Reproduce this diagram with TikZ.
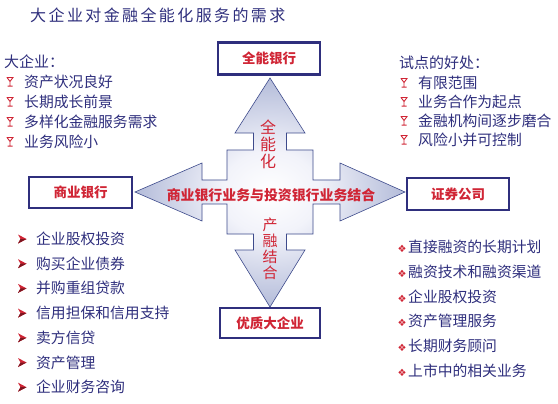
\documentclass[tikz,border=0pt]{standalone}
\usepackage{fontspec}
\setmainfont{Noto Sans CJK SC}
\newfontfamily\dejavu{DejaVu Sans}
\usetikzlibrary{positioning, calc}
\definecolor{navy}{HTML}{2F2F7D}
\definecolor{tred}{HTML}{D02535}
\definecolor{steel}{HTML}{5265A6}
\definecolor{hublight}{HTML}{F2F3FA}
\definecolor{hubedge}{HTML}{3E4B8C}
\pgfdeclareradialshading{hubshade}{\pgfpoint{0bp}{0bp}}{%
  color(0bp)=(white); color(9bp)=(hublight); color(50bp)=(steel)}
\newcommand{\diabul}{\llap{{\dejavu\fontsize{10}{12}\selectfont\color{tred}❖}\hspace{1.5pt}}}

\begin{document}
\begin{tikzpicture}[
  x=1pt, y=-1pt,
  bankbox/.style={
    draw=navy, line width=2.4pt, fill=white,
    minimum width=102pt, minimum height=32pt, inner sep=0pt,
    text=tred, font=\fontsize{13.5}{16}\selectfont\bfseries
  },
  headtxt/.style={anchor=west, inner sep=0pt, text=navy,
    font=\fontsize{15}{18}\selectfont},
  item/.style={anchor=west, inner sep=0pt, text=navy,
    font=\fontsize{14.8}{17}\selectfont},
  redtxt/.style={inner sep=0pt, text=tred, align=center},
  goblet/.pic={
    \draw[tred, line width=0.9pt]
      (-3.5,-4.5) -- (3.5,-4.5) (-3,-4.5) -- (0,-0.5) -- (3,-4.5)
      (0,-0.5) -- (0,3.8) (-2.5,4.2) -- (2.5,4.2);
  },
  pointer/.pic={
    \fill[tred] (-4,-4.5) -- (4.5,0) -- (-4,4.5) -- (-1.5,0) -- cycle;
    \fill[tred!60!black] (-1.5,0) -- (4.5,0) -- (-4,4.5) -- cycle;
  },
]

% Canvas
\fill[white] (0,0) rectangle (558,404);
\useasboundingbox (0,0) rectangle (558,404);

% Title
\node[anchor=west, inner sep=0pt, text=navy,
  font=\fontsize{16}{20}\selectfont\addfontfeature{LetterSpace=15}] (title) at (30,15)
  {大企业对金融全能化服务的需求};

% Four-way arrow
\coordinate (hub) at (270,192);
\begin{scope}[shift={(hub)}]
\path[shading=hubshade, shade, draw=hubedge, line width=0.6pt]
  (0,-114) -- (35,-59) -- (16.5,-59) -- (16.5,-42) -- (43,-42) -- (43,-12)
  -- (70,-12) -- (70,-29) -- (135,0) -- (70,29) -- (70,12) -- (43,12)
  -- (43,42) -- (16.5,42) -- (16.5,58) -- (35,58) -- (0,115) -- (-35,58)
  -- (-16.5,58) -- (-16.5,42) -- (-43,42) -- (-43,12) -- (-68,12)
  -- (-68,29) -- (-135,0) -- (-68,-29) -- (-68,-12) -- (-43,-12)
  -- (-43,-42) -- (-16.5,-42) -- (-16.5,-59) -- (-35,-59) -- cycle;
\end{scope}

% Texts on the arrow
\node[redtxt, font=\fontsize{13.9}{16}\selectfont\bfseries] (combine) at (271,195)
  {商业银行业务与投资银行业务结合};
\node[redtxt, font=\fontsize{16}{17}\selectfont] (quan) at (268,144)
  {全\\能\\化};
\node[redtxt, font=\fontsize{15}{16}\selectfont] (chan) at (270,249)
  {产\\融\\结\\合};

% Boxes at the arrow tips
\node[bankbox] (univ) at (269,58.5) {全能银行};
\node[bankbox, minimum width=103pt, minimum height=31pt] (comm) at (80.5,192.5) {商业银行};
\node[bankbox] (secu) at (458,194) {证券公司};
\node[bankbox, minimum width=100pt, minimum height=30pt] (corp) at (270,323) {优质大企业};

% Needs of large firms (top left)
\def\ltY{82}
\def\ltSp{20}
\node[headtxt] (lhead) at (4,62) {大企业：};
\node[item] (lt1) at (24, \ltY) {资产状况良好};
\node[item] (lt2) at (24, \ltY + \ltSp*1) {长期成长前景};
\node[item] (lt3) at (24, \ltY + \ltSp*2) {多样化金融服务需求};
\node[item] (lt4) at (24, \ltY + \ltSp*3) {业务风险小};
\pic at ([xshift=-14pt]lt1.west) {goblet};
\pic at ([xshift=-14pt]lt2.west) {goblet};
\pic at ([xshift=-14pt]lt3.west) {goblet};
\pic at ([xshift=-14pt]lt4.west) {goblet};

% Benefits of the pilot (top right)
\def\rtY{83}
\def\rtSp{19}
\node[headtxt] (rhead) at (399,63) {试点的好处：};
\node[item] (rt1) at (418, \rtY) {有限范围};
\node[item] (rt2) at (418, \rtY + \rtSp*1) {业务合作为起点};
\node[item] (rt3) at (418, \rtY + \rtSp*2) {金融机构间逐步磨合};
\node[item] (rt4) at (418, \rtY + \rtSp*3) {风险小并可控制};
\pic at ([xshift=-14pt]rt1.west) {goblet};
\pic at ([xshift=-14pt]rt2.west) {goblet};
\pic at ([xshift=-14pt]rt3.west) {goblet};
\pic at ([xshift=-14pt]rt4.west) {goblet};

% Commercial bank services (bottom left)
\def\lbY{239}
\def\lbSp{24.7}
\node[item] (lb1) at (36, \lbY) {企业股权投资};
\node[item] (lb2) at (36, \lbY + \lbSp*1) {购买企业债券};
\node[item] (lb3) at (36, \lbY + \lbSp*2) {并购重组贷款};
\node[item] (lb4) at (36, \lbY + \lbSp*3) {信用担保和信用支持};
\node[item] (lb5) at (36, \lbY + \lbSp*4) {卖方信贷};
\node[item] (lb6) at (36, \lbY + \lbSp*5) {资产管理};
\node[item] (lb7) at (36, \lbY + \lbSp*6) {企业财务咨询};
\pic at ([xshift=-14pt]lb1.west) {pointer};
\pic at ([xshift=-14pt]lb2.west) {pointer};
\pic at ([xshift=-14pt]lb3.west) {pointer};
\pic at ([xshift=-14pt]lb4.west) {pointer};
\pic at ([xshift=-14pt]lb5.west) {pointer};
\pic at ([xshift=-14pt]lb6.west) {pointer};
\pic at ([xshift=-14pt]lb7.west) {pointer};

% Securities firm services (bottom right)
\def\rbY{247}
\def\rbSp{24.7}
\node[item] (rb1) at (408, \rbY) {\diabul 直接融资的长期计划};
\node[item] (rb2) at (408, \rbY + \rbSp*1) {\diabul 融资技术和融资渠道};
\node[item] (rb3) at (408, \rbY + \rbSp*2) {\diabul 企业股权投资};
\node[item] (rb4) at (408, \rbY + \rbSp*3) {\diabul 资产管理服务};
\node[item] (rb5) at (408, \rbY + \rbSp*4) {\diabul 长期财务顾问};
\node[item] (rb6) at (408, \rbY + \rbSp*5) {\diabul 上市中的相关业务};

\end{tikzpicture}
\end{document}
